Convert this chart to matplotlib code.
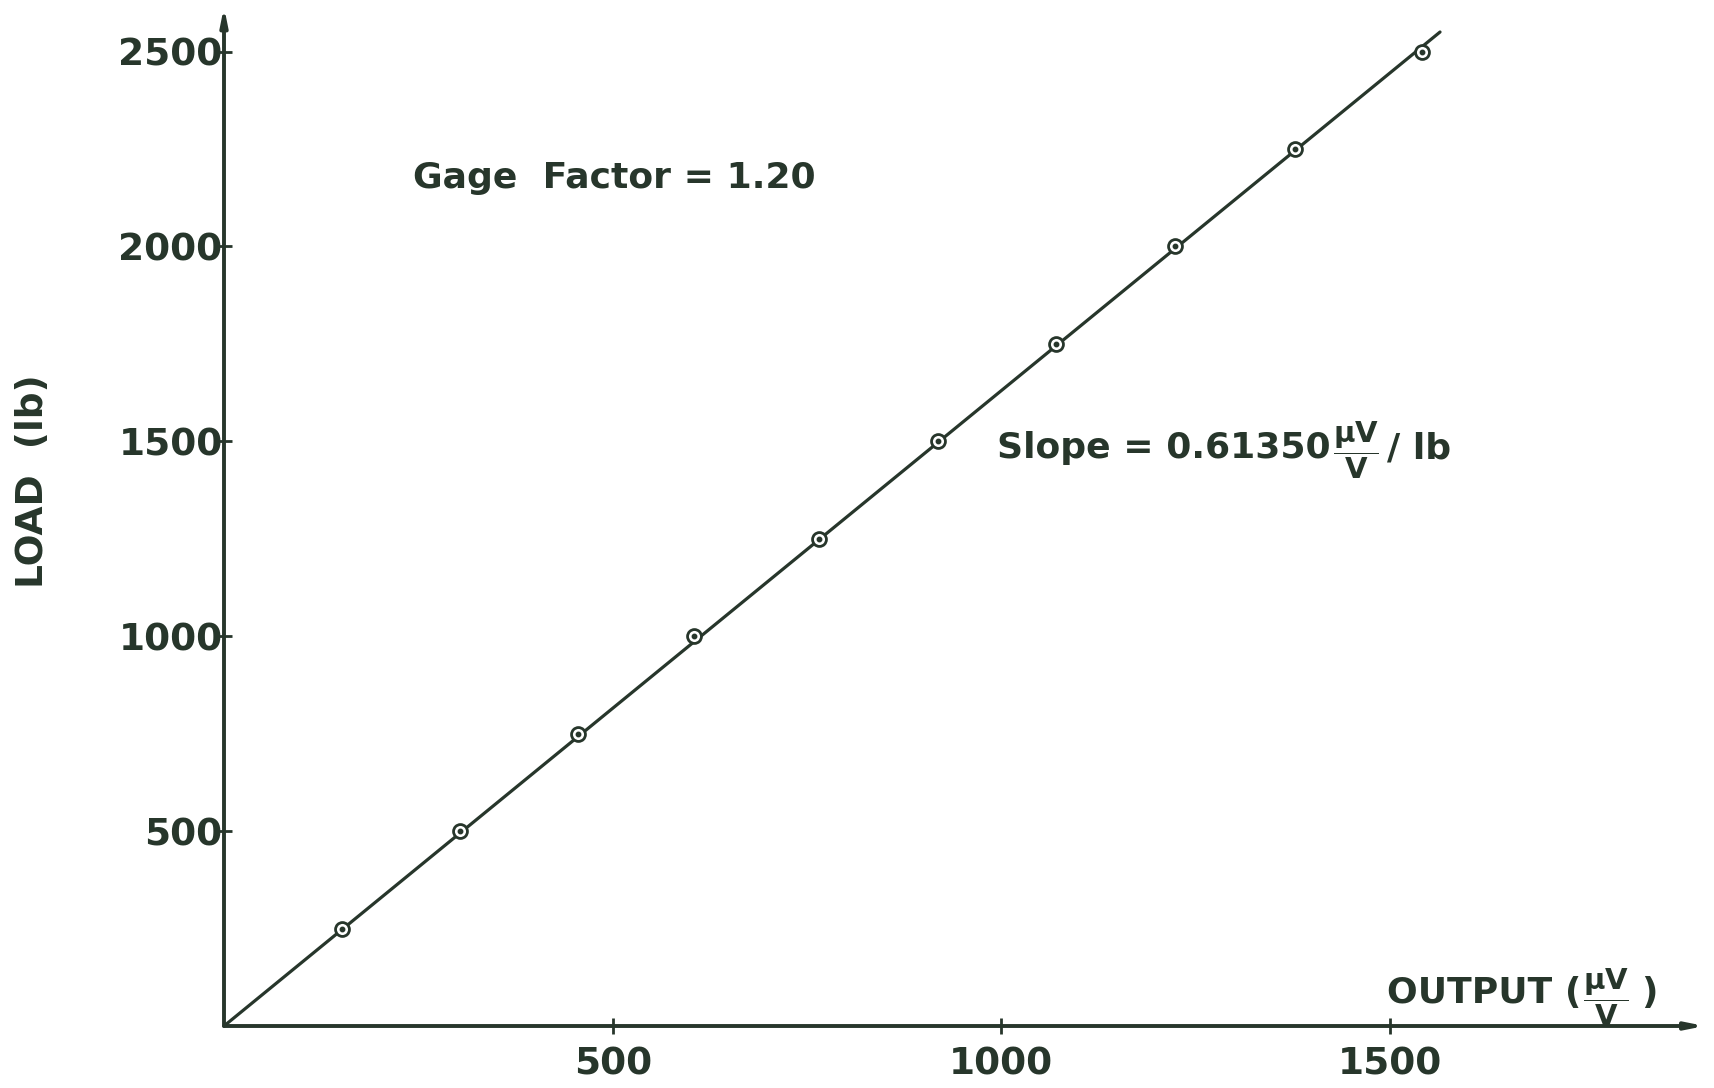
import matplotlib
matplotlib.use("Agg")
import matplotlib.pyplot as plt
import numpy as np

# Calibration readings: applied load and bridge output
load_lb = [250, 500, 750, 1000, 1250, 1500, 1750, 2000, 2250, 2500]
output_uv = [152, 304, 456, 605, 766, 918, 1071, 1224, 1378, 1541]

slope = 0.61350          # uV/V per lb
gage_factor = 1.20
line_load_max = 2550

x_ticks = [500, 1000, 1500]
y_ticks = [500, 1000, 1500, 2000, 2500]

ink = "#27362b"
plt.rcParams["font.family"] = ["DejaVu Sans"]
plt.rcParams["mathtext.fontset"] = "custom"
plt.rcParams["mathtext.rm"] = "DejaVu Sans:bold"
plt.rcParams["mathtext.it"] = "DejaVu Sans:bold"
plt.rcParams["mathtext.bf"] = "DejaVu Sans:bold"

W, H = 1715, 1088
fig = plt.figure(figsize=(W / 100, H / 100), dpi=100)
fig.patch.set_facecolor("white")

ox, oy = 224, 1026          # origin in pixels
px_x = 0.7773               # pixels per uV/V
px_y = 0.3898               # pixels per lb
ax = fig.add_axes([ox / W, (H - oy) / H, (W - ox) / W, oy / H])
ax.set_xlim(0, (W - ox) / px_x)
ax.set_ylim(0, oy / px_y)
for s in ax.spines.values():
    s.set_visible(False)
ax.set_facecolor("none")

# axes with arrowheads
arrow = dict(arrowstyle="-|>,head_length=1.0,head_width=0.2",
             color=ink, lw=2.8, shrinkA=0, shrinkB=0)
ax.annotate("", xy=(1905, 0), xytext=(0, 0), arrowprops=arrow,
            annotation_clip=False)
ax.annotate("", xy=(0, 2615), xytext=(0, 0), arrowprops=arrow,
            annotation_clip=False)

# fitted line through the origin
ll = np.array([0, line_load_max])
ax.plot(ll * slope, ll, color=ink, lw=2.3, solid_capstyle="round", zorder=3)

# data points: open circle with centre dot
ax.plot(output_uv, load_lb, linestyle="none", marker="o", ms=10,
        mfc="white", mec=ink, mew=2.0, zorder=4)
ax.plot(output_uv, load_lb, linestyle="none", marker="o", ms=3.2,
        mfc=ink, mec=ink, zorder=5)

ax.set_xticks(x_ticks)
ax.set_yticks(y_ticks)
ax.set_xticklabels([str(v) for v in x_ticks])
ax.set_yticklabels([str(v) for v in y_ticks])
ax.tick_params(axis="both", direction="inout", length=12, width=2.0,
               color=ink, labelcolor=ink, labelsize=27)
ax.tick_params(axis="y", pad=-5)
ax.tick_params(axis="x", pad=9)
for lab in ax.get_xticklabels() + ax.get_yticklabels():
    lab.set_fontweight("bold")

txt = dict(fontweight="bold", color=ink)
fig.text(33 / W, 1 - 481 / H, "LOAD  (lb)", rotation=90, ha="center",
         va="center", fontsize=27, **txt)
fig.text(413 / W, 1 - 178 / H, f"Gage  Factor = {gage_factor:.2f}",
         ha="left", va="center", fontsize=26, **txt)

renderer = fig.canvas.get_renderer()


def chain(parts, x_px, y_px):
    """Place text pieces one after another starting at pixel (x, y from top)."""
    x = x_px
    for s, size, gap, dy in parts:
        t = fig.text((x + gap) / W, 1 - (y_px + dy) / H, s, ha="left",
                     va="center", fontsize=size, **txt)
        bb = t.get_window_extent(renderer)
        x = bb.x1


frac = r"$\dfrac{\mu V}{V}$"
chain([(f"Slope = {slope:.5f}", 26, 0, 0),
       (frac, 21, 2, 2),
       ("/ lb", 26, 8, 0)], 997, 448)
chain([("OUTPUT (", 26, 0, 0),
       (frac, 21, 2, 4),
       (")", 26, 12, 0)], 1387, 993)

fig.savefig("out.png", dpi=100, facecolor="white")
